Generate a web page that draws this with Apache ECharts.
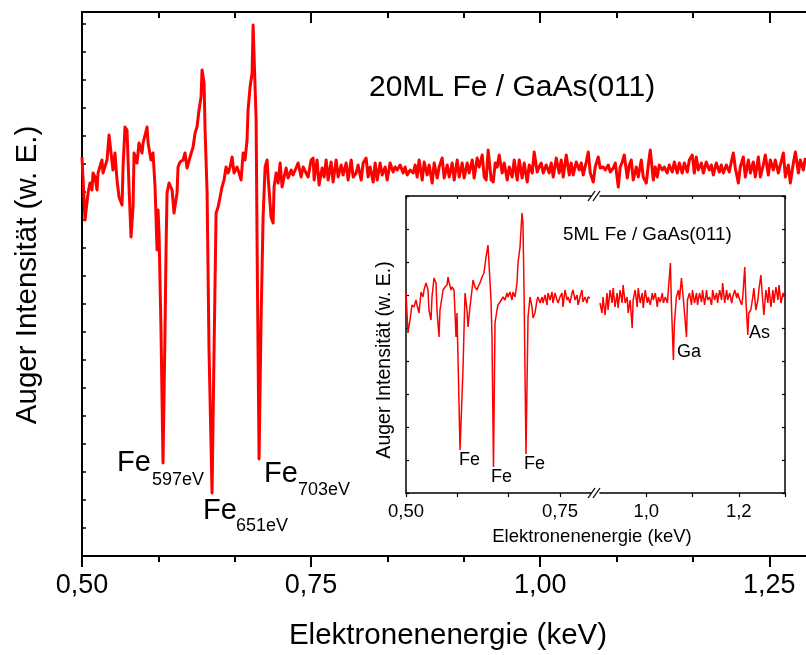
<!DOCTYPE html>
<html>
<head>
<meta charset="utf-8">
<script src="https://cdn.jsdelivr.net/npm/echarts@6/dist/echarts.min.js"></script>
<style>
  html, body { margin: 0; padding: 0; background: #ffffff; }
  #chart { width: 806px; height: 655px; }
</style>
</head>
<body>
<div id="chart"></div>
<script>
// ---- 20 ML Fe / GaAs(011): derivative Auger spectrum (energy in eV, intensity in arbitrary units)
const mainEnergy = [
  500.0,503.3,506.6,508.7,510.9,512.0,514.2,516.4,517.5,521.8,
  522.9,527.3,529.5,531.7,533.8,536.0,538.2,540.4,543.7,544.8,
  546.9,549.1,551.3,553.5,555.7,556.8,560.0,562.2,565.5,566.6,
  571.0,572.1,575.3,577.5,579.7,581.9,583.0,584.1,586.2,588.4,
  590.6,591.7,592.8,595.0,598.3,600.4,603.7,604.8,607.0,610.3,
  612.4,614.6,617.9,621.2,623.4,625.5,627.7,629.9,631.0,633.2,
  634.3,636.5,638.6,641.9,644.1,646.3,648.5,650.7,652.8,655.0,
  657.2,659.4,661.6,663.8,665.9,669.2,671.4,673.6,675.8,677.9,
  680.1,681.2,683.4,685.6,686.7,687.8,690.0,691.1,693.2,695.4,
  697.6,699.8,702.0,703.1,706.3,708.5,709.6,711.8,714.0,716.2,
  718.3,720.5,722.7,724.9,728.2,730.3,733.6,735.8,
  739.1,741.3,744.5,746.7,750.0,752.2,753.3,756.5,758.7,762.0,
  764.2,766.4,768.6,771.8,774.0,777.3,779.5,782.8,784.9,788.2,
  790.4,793.7,795.9,799.1,801.3,804.6,806.8,810.0,812.2,814.4,
  817.7,819.9,822.1,825.3,827.5,830.8,833.0,836.2,839.5,841.7,
  843.9,847.2,850.4,852.6,854.8,858.1,861.4,863.5,865.7,867.9,
  871.2,873.4,876.6,878.8,882.1,884.3,887.6,889.7,893.0,895.2,
  898.5,900.7,903.9,906.1,909.4,911.6,914.8,917.0,920.3,922.5,
  925.8,927.9,931.2,933.4,936.7,938.9,941.0,943.2,946.5,948.7,
  950.9,953.1,955.2,958.5,960.7,964.0,966.2,969.4,971.6,974.9,
  977.1,980.3,982.5,985.8,988.0,991.3,993.4,996.7,998.9,1001.1,
  1003.3,1006.5,1009.8,1012.0,1014.2,1017.5,1020.7,1022.9,1025.1,1028.4,
  1031.7,1033.8,1036.0,1039.3,1042.6,1044.8,1046.9,1050.2,1052.4,1054.6,
  1057.9,1060.0,1063.3,1065.5,1068.8,1071.0,1074.2,1076.4,1079.7,1081.9,
  1085.2,1087.3,1089.5,1091.7,1095.0,1097.2,1099.3,1101.5,1104.8,1107.0,
  1110.3,1112.4,1115.7,1117.9,1120.1,1123.4,1125.5,1127.7,1129.9,1133.2,
  1135.4,1138.6,1140.8,1144.1,1146.3,1149.6,1151.7,1155.0,1157.2,1160.5,
  1162.7,1165.9,1168.1,1170.3,1172.5,1175.8,1178.0,1181.2,1184.5,1186.7,
  1188.9,1192.1,1195.4,1197.6,1199.8,1203.1,1206.3,1208.5,1210.7,1212.9,
  1216.2,1218.3,1221.6,1223.8,1227.1,1229.3,1232.5,1234.7,1238.0,1240.2,
  1243.4,1245.6,1248.9,1251.1,1254.4,1256.5,1259.8,1262.0,1265.3,1267.5,
  1270.7,1272.9,1276.2,1278.4,1281.7,1283.8,1287.1,1289.3
];
const mainIntensity = [
  399,336,363,373,366,383,379,366,383,396,
  383,396,421,403,386,403,376,359,351,389,
  429,426,369,319,349,403,393,413,403,413,
  429,413,396,403,369,306,346,321,226,93,
  226,306,363,373,366,343,363,389,394,396,
  403,388,399,409,423,429,446,459,486,473,
  426,363,206,63,206,343,349,359,369,376,
  389,383,389,399,383,389,383,376,403,396,
  416,446,469,483,531,529,436,306,97,236,
  339,389,396,379,339,333,369,383,373,393,
  369,379,388,378,386,381,388,393,
  379,389,383,379,396,398,376,396,371,388,
  379,396,376,394,374,396,379,391,381,393,
  376,396,379,383,391,376,393,398,379,389,
  374,393,376,393,381,389,376,393,384,389,
  386,391,383,389,381,386,383,391,379,396,
  376,394,381,391,373,393,378,389,398,378,
  391,379,393,376,396,379,393,378,393,383,
  396,378,398,389,401,379,376,406,376,374,
  393,389,401,383,393,376,389,379,396,376,
  396,378,393,374,391,383,404,384,389,393,
  383,391,383,393,379,398,383,396,379,401,
  381,393,381,394,386,393,381,394,404,383,
  374,389,399,388,389,386,391,384,388,393,
  369,389,394,401,378,391,396,376,389,379,
  396,379,373,391,406,376,389,379,391,386,
  389,383,391,384,394,383,393,383,393,384,
  396,401,383,399,386,393,383,394,386,391,
  381,393,384,391,383,391,384,394,403,388,
  373,389,399,379,396,383,394,379,399,379,
  391,401,381,396,386,396,383,391,403,379,
  391,373,393,404,383,396,386,398
];

// ---- 5 ML Fe / GaAs(011): low-energy part (Fe lines)
const insetLowEnergy = [
  500.0,503.2,506.5,509.7,513.0,516.2,517.9,521.1,524.4,527.6,
  529.2,532.5,535.7,537.3,540.6,542.2,545.5,548.7,550.3,553.6,
  555.2,558.4,560.1,563.3,566.6,568.2,569.8,573.1,574.7,577.9,
  579.6,581.2,582.8,587.7,592.5,595.8,599.0,600.7,603.9,607.1,
  608.8,612.0,615.3,616.9,620.1,623.4,626.6,629.9,633.1,634.7,
  638.0,639.6,642.0,644.5,647.7,649.4,652.6,655.8,657.5,660.7,
  664.0,665.6,668.8,672.1,673.7,677.0,680.2,681.8,685.1,688.3,
  689.9,691.6,694.8,698.1,701.3,704.5,706.2,709.4,712.7,714.3,
  717.5,720.8,722.4,725.7,728.9,730.5,733.8,737.0,738.6,741.9,
  745.1,746.8,750.0,753.2,754.9,758.1,761.4,763.0,766.2,769.5,
  771.1,774.4,777.6,779.2,782.5,785.7,787.3,790.6,793.8,795.5,
  798.7
];
const insetLowIntensity = [
  201,160,173,188,186,193,188,180,201,196,
  203,210,203,183,173,196,215,210,183,156,
  183,196,203,206,208,216,211,203,206,203,
  180,156,180,43,123,200,183,166,186,203,
  213,206,203,206,210,216,220,236,248,230,
  193,156,26,170,183,188,191,193,196,193,
  200,196,201,193,201,196,210,230,246,280,
  270,203,39,176,196,186,175,180,193,196,
  190,196,190,198,188,200,193,201,190,200,
  193,190,196,200,186,203,193,196,190,200,
  203,193,198,188,196,203,191,196,190,196,
  195
];

// ---- 5 ML Fe / GaAs(011): high-energy part (Ga and As lines)
const insetHighEnergy = [
  900.0,904.3,906.5,910.9,915.2,917.4,921.7,926.1,928.3,932.6,
  937.0,939.1,943.5,947.8,950.0,954.3,958.7,960.9,965.2,969.6,
  971.7,976.1,980.4,982.6,987.0,991.3,993.5,997.8,1002.2,1004.3,
  1008.7,1013.0,1015.2,1019.6,1023.9,1026.1,1030.4,1034.8,1037.0,1041.3,
  1045.7,1047.8,1052.2,1054.3,1058.7,1060.9,1065.2,1069.6,1071.7,1076.1,
  1080.4,1082.6,1087.0,1089.1,1093.5,1097.8,1100.0,1104.3,1108.7,1110.9,
  1115.2,1119.6,1121.7,1126.1,1130.4,1132.6,1137.0,1141.3,1143.5,1147.8,
  1152.2,1154.3,1158.7,1163.0,1165.2,1169.6,1173.9,1176.1,1180.4,1184.8,
  1187.0,1191.3,1195.7,1197.8,1202.2,1206.5,1208.7,1213.0,1215.2,1219.6,
  1221.7,1226.1,1230.4,1232.6,1237.0,1241.3,1243.5,1247.8,1252.2,1254.3,
  1258.7,1263.0,1265.2,1269.6,1273.9,1276.1,1280.4,1284.8,1287.0,1291.3,
  1295.7,1297.8
];
const insetHighIntensity = [
  190,180,196,178,200,183,203,190,205,186,
  200,185,203,190,208,190,196,180,193,165,
  193,203,186,205,190,200,185,203,190,196,
  188,200,193,200,186,196,191,200,190,196,
  190,203,230,190,133,170,196,203,193,215,
  193,193,156,193,200,188,203,190,200,188,
  200,191,203,188,203,193,196,188,203,193,
  200,190,203,193,210,190,203,193,200,190,
  196,203,195,200,193,188,196,226,196,158,
  180,183,196,205,183,193,203,218,190,178,
  203,190,206,186,203,190,206,193,208,190,
  200,196
];

// ---- axis ticks and labels (eV)
const mainMajorTicks = [500, 750, 1000, 1250];
const mainMinorTicks = [583.3, 666.7, 833.3, 916.7, 1083.3, 1166.7];
const insetLowTicks = [500, 583.3, 666.7, 750];
const insetLowLabels = [500, 750];
const insetHighTicks = [1000, 1100, 1200, 1300];
const insetHighLabels = [1000, 1200];

// ---- text
const mainTitle = '20ML Fe / GaAs(011)';
const insetTitle = '5ML Fe / GaAs(011)';
const xTitle = 'Elektronenenergie (keV)';
const yTitle = 'Auger Intensität (w. E.)';
const mainPeakLabels = [
  { el: 'Fe', sub: '597eV', x: 117, y: 463, sx: 152, sy: 480 },
  { el: 'Fe', sub: '651eV', x: 203, y: 511, sx: 236, sy: 526 },
  { el: 'Fe', sub: '703eV', x: 264, y: 474, sx: 298, sy: 490 }
];
const insetPeakLabels = [
  { text: 'Fe', x: 459, y: 460 },
  { text: 'Fe', x: 491, y: 477 },
  { text: 'Fe', x: 524, y: 464 },
  { text: 'Ga', x: 677, y: 352 },
  { text: 'As', x: 749, y: 333 }
];

const FONT = '"Liberation Sans", Arial, Helvetica, sans-serif';
const RED = '#ff0000';
const BLACK = '#000000';

function zip(xs, ys) { return xs.map((x, i) => [x, ys[i]]); }
function keV2(v) { return (v / 1000).toFixed(2).replace('.', ','); }
function keV1(v) { return (v / 1000).toFixed(1).replace('.', ','); }

// main frame
const MAIN = { left: 82, top: 12, right: 0, bottom: 99 };
// inset frame: two panels separated by an axis break
const INSET_TOP = 196, INSET_BOTTOM = 493;
const LOW = { left: 406, width: 184.8 };
const HIGH = { left: 600, width: 185 };

const chart = echarts.init(document.getElementById('chart'), null, { renderer: 'canvas' });

function xAxisBase(grid, min, max, position, lineWidth, show) {
  return {
    type: 'value', gridIndex: grid, min: min, max: max, position: position,
    axisLine: { show: show, onZero: false, lineStyle: { color: BLACK, width: lineWidth } },
    axisLabel: { show: false },
    splitLine: { show: false }
  };
}

const xAxes = [
  // 0: main bottom, long ticks + labels
  Object.assign(xAxisBase(0, 500, 1290, 'bottom', 2, true), {
    axisTick: { show: true, inside: false, length: 11, customValues: mainMajorTicks, lineStyle: { color: BLACK, width: 2 } },
    axisLabel: { show: true, customValues: mainMajorTicks, formatter: keV2, color: BLACK, fontSize: 27, fontFamily: FONT, margin: 16 }
  }),
  // 1: main bottom, short ticks
  Object.assign(xAxisBase(0, 500, 1290, 'bottom', 2, false), {
    axisTick: { show: true, inside: false, length: 6, customValues: mainMinorTicks, lineStyle: { color: BLACK, width: 2 } }
  }),
  // 2: main top, long ticks
  Object.assign(xAxisBase(0, 500, 1290, 'top', 2, true), {
    axisTick: { show: true, inside: true, length: 11, customValues: mainMajorTicks, lineStyle: { color: BLACK, width: 2 } }
  }),
  // 3: main top, short ticks
  Object.assign(xAxisBase(0, 500, 1290, 'top', 2, false), {
    axisTick: { show: true, inside: true, length: 6, customValues: mainMinorTicks, lineStyle: { color: BLACK, width: 2 } }
  }),
  // 4: inset low bottom
  Object.assign(xAxisBase(1, 500, 800, 'bottom', 1.5, true), {
    axisTick: { show: true, inside: false, length: 4, customValues: insetLowTicks, lineStyle: { color: BLACK, width: 1.2 } },
    axisLabel: { show: true, customValues: insetLowLabels, formatter: keV2, color: BLACK, fontSize: 18.5, fontFamily: FONT, margin: 9 }
  }),
  // 5: inset low top
  Object.assign(xAxisBase(1, 500, 800, 'top', 1.5, true), {
    axisTick: { show: true, inside: true, length: 3, customValues: insetLowTicks, lineStyle: { color: BLACK, width: 1.2 } }
  }),
  // 6: inset high bottom
  Object.assign(xAxisBase(2, 900, 1300, 'bottom', 1.5, true), {
    axisTick: { show: true, inside: false, length: 4, customValues: insetHighTicks, lineStyle: { color: BLACK, width: 1.2 } },
    axisLabel: { show: true, customValues: insetHighLabels, formatter: keV1, color: BLACK, fontSize: 18.5, fontFamily: FONT, margin: 9 }
  }),
  // 7: inset high top
  Object.assign(xAxisBase(2, 900, 1300, 'top', 1.5, true), {
    axisTick: { show: true, inside: true, length: 3, customValues: insetHighTicks, lineStyle: { color: BLACK, width: 1.2 } }
  })
];

const yAxes = [
  {
    type: 'value', gridIndex: 0, min: 0, max: 544, interval: 28, position: 'left',
    axisLine: { show: true, onZero: false, lineStyle: { color: BLACK, width: 2 } },
    axisTick: { show: true, inside: true, length: 4, lineStyle: { color: BLACK, width: 1.5 } },
    axisLabel: { show: false }, splitLine: { show: false }
  },
  {
    type: 'value', gridIndex: 1, min: 0, max: 297, interval: 33, position: 'left',
    axisLine: { show: true, onZero: false, lineStyle: { color: BLACK, width: 1.5 } },
    axisTick: { show: true, inside: true, length: 3, lineStyle: { color: BLACK, width: 1.2 } },
    axisLabel: { show: false }, splitLine: { show: false }
  },
  {
    type: 'value', gridIndex: 2, min: 0, max: 297, interval: 33, position: 'right',
    axisLine: { show: true, onZero: false, lineStyle: { color: BLACK, width: 1.5 } },
    axisTick: { show: true, inside: true, length: 3, lineStyle: { color: BLACK, width: 1.2 } },
    axisLabel: { show: false }, splitLine: { show: false }
  }
];

// "//" marks where the inset energy axis is broken
function breakMarks(yc) {
  const marks = [];
  [591.5, 596.5].forEach(function (xc) {
    marks.push({
      type: 'line', z: 100,
      shape: { x1: xc - 3.5, y1: yc + 5, x2: xc + 3.5, y2: yc - 5 },
      style: { stroke: BLACK, lineWidth: 1.3 }
    });
  });
  return marks;
}

function txt(text, x, y, size, align, rotation) {
  return {
    type: 'text', x: x, y: y, rotation: rotation || 0, z: 100,
    style: {
      text: text, x: 0, y: 0, fill: BLACK,
      font: size + 'px ' + FONT,
      textAlign: align, textVerticalAlign: 'middle',
      align: align, verticalAlign: 'middle'
    }
  };
}

const graphics = [];
graphics.push(txt(mainTitle, 369, 88, 30, 'left'));
graphics.push(txt(xTitle, 448, 636, 29.5, 'center'));
graphics.push(txt(yTitle, 28, 275, 29.5, 'center', Math.PI / 2));
mainPeakLabels.forEach(function (p) {
  graphics.push(txt(p.el, p.x, p.y, 29, 'left'));
  graphics.push(txt(p.sub, p.sx, p.sy, 18, 'left'));
});
graphics.push(txt(insetTitle, 563, 235, 18.8, 'left'));
graphics.push(txt(xTitle, 592, 537, 18.5, 'center'));
graphics.push(txt(yTitle, 385, 360, 19.5, 'center', Math.PI / 2));
insetPeakLabels.forEach(function (p) {
  graphics.push(txt(p.text, p.x, p.y, 18, 'left'));
});
breakMarks(INSET_TOP).concat(breakMarks(INSET_BOTTOM)).forEach(function (m) { graphics.push(m); });

chart.setOption({
  animation: false,
  backgroundColor: '#ffffff',
  textStyle: { fontFamily: FONT },
  grid: [
    { left: MAIN.left, top: MAIN.top, right: MAIN.right, bottom: MAIN.bottom, containLabel: false },
    { left: LOW.left, top: INSET_TOP, width: LOW.width, height: INSET_BOTTOM - INSET_TOP, containLabel: false },
    { left: HIGH.left, top: INSET_TOP, width: HIGH.width, height: INSET_BOTTOM - INSET_TOP, containLabel: false }
  ],
  xAxis: xAxes,
  yAxis: yAxes,
  series: [
    {
      type: 'line', xAxisIndex: 0, yAxisIndex: 0,
      data: zip(mainEnergy, mainIntensity),
      showSymbol: false, symbol: 'none', clip: true,
      lineStyle: { color: RED, width: 3, join: 'round' }
    },
    {
      type: 'line', xAxisIndex: 4, yAxisIndex: 1,
      data: zip(insetLowEnergy, insetLowIntensity),
      showSymbol: false, symbol: 'none', clip: true,
      lineStyle: { color: RED, width: 1.5 }
    },
    {
      type: 'line', xAxisIndex: 6, yAxisIndex: 2,
      data: zip(insetHighEnergy, insetHighIntensity),
      showSymbol: false, symbol: 'none', clip: true,
      lineStyle: { color: RED, width: 1.5 }
    }
  ],
  graphic: graphics
});
</script>
</body>
</html>
